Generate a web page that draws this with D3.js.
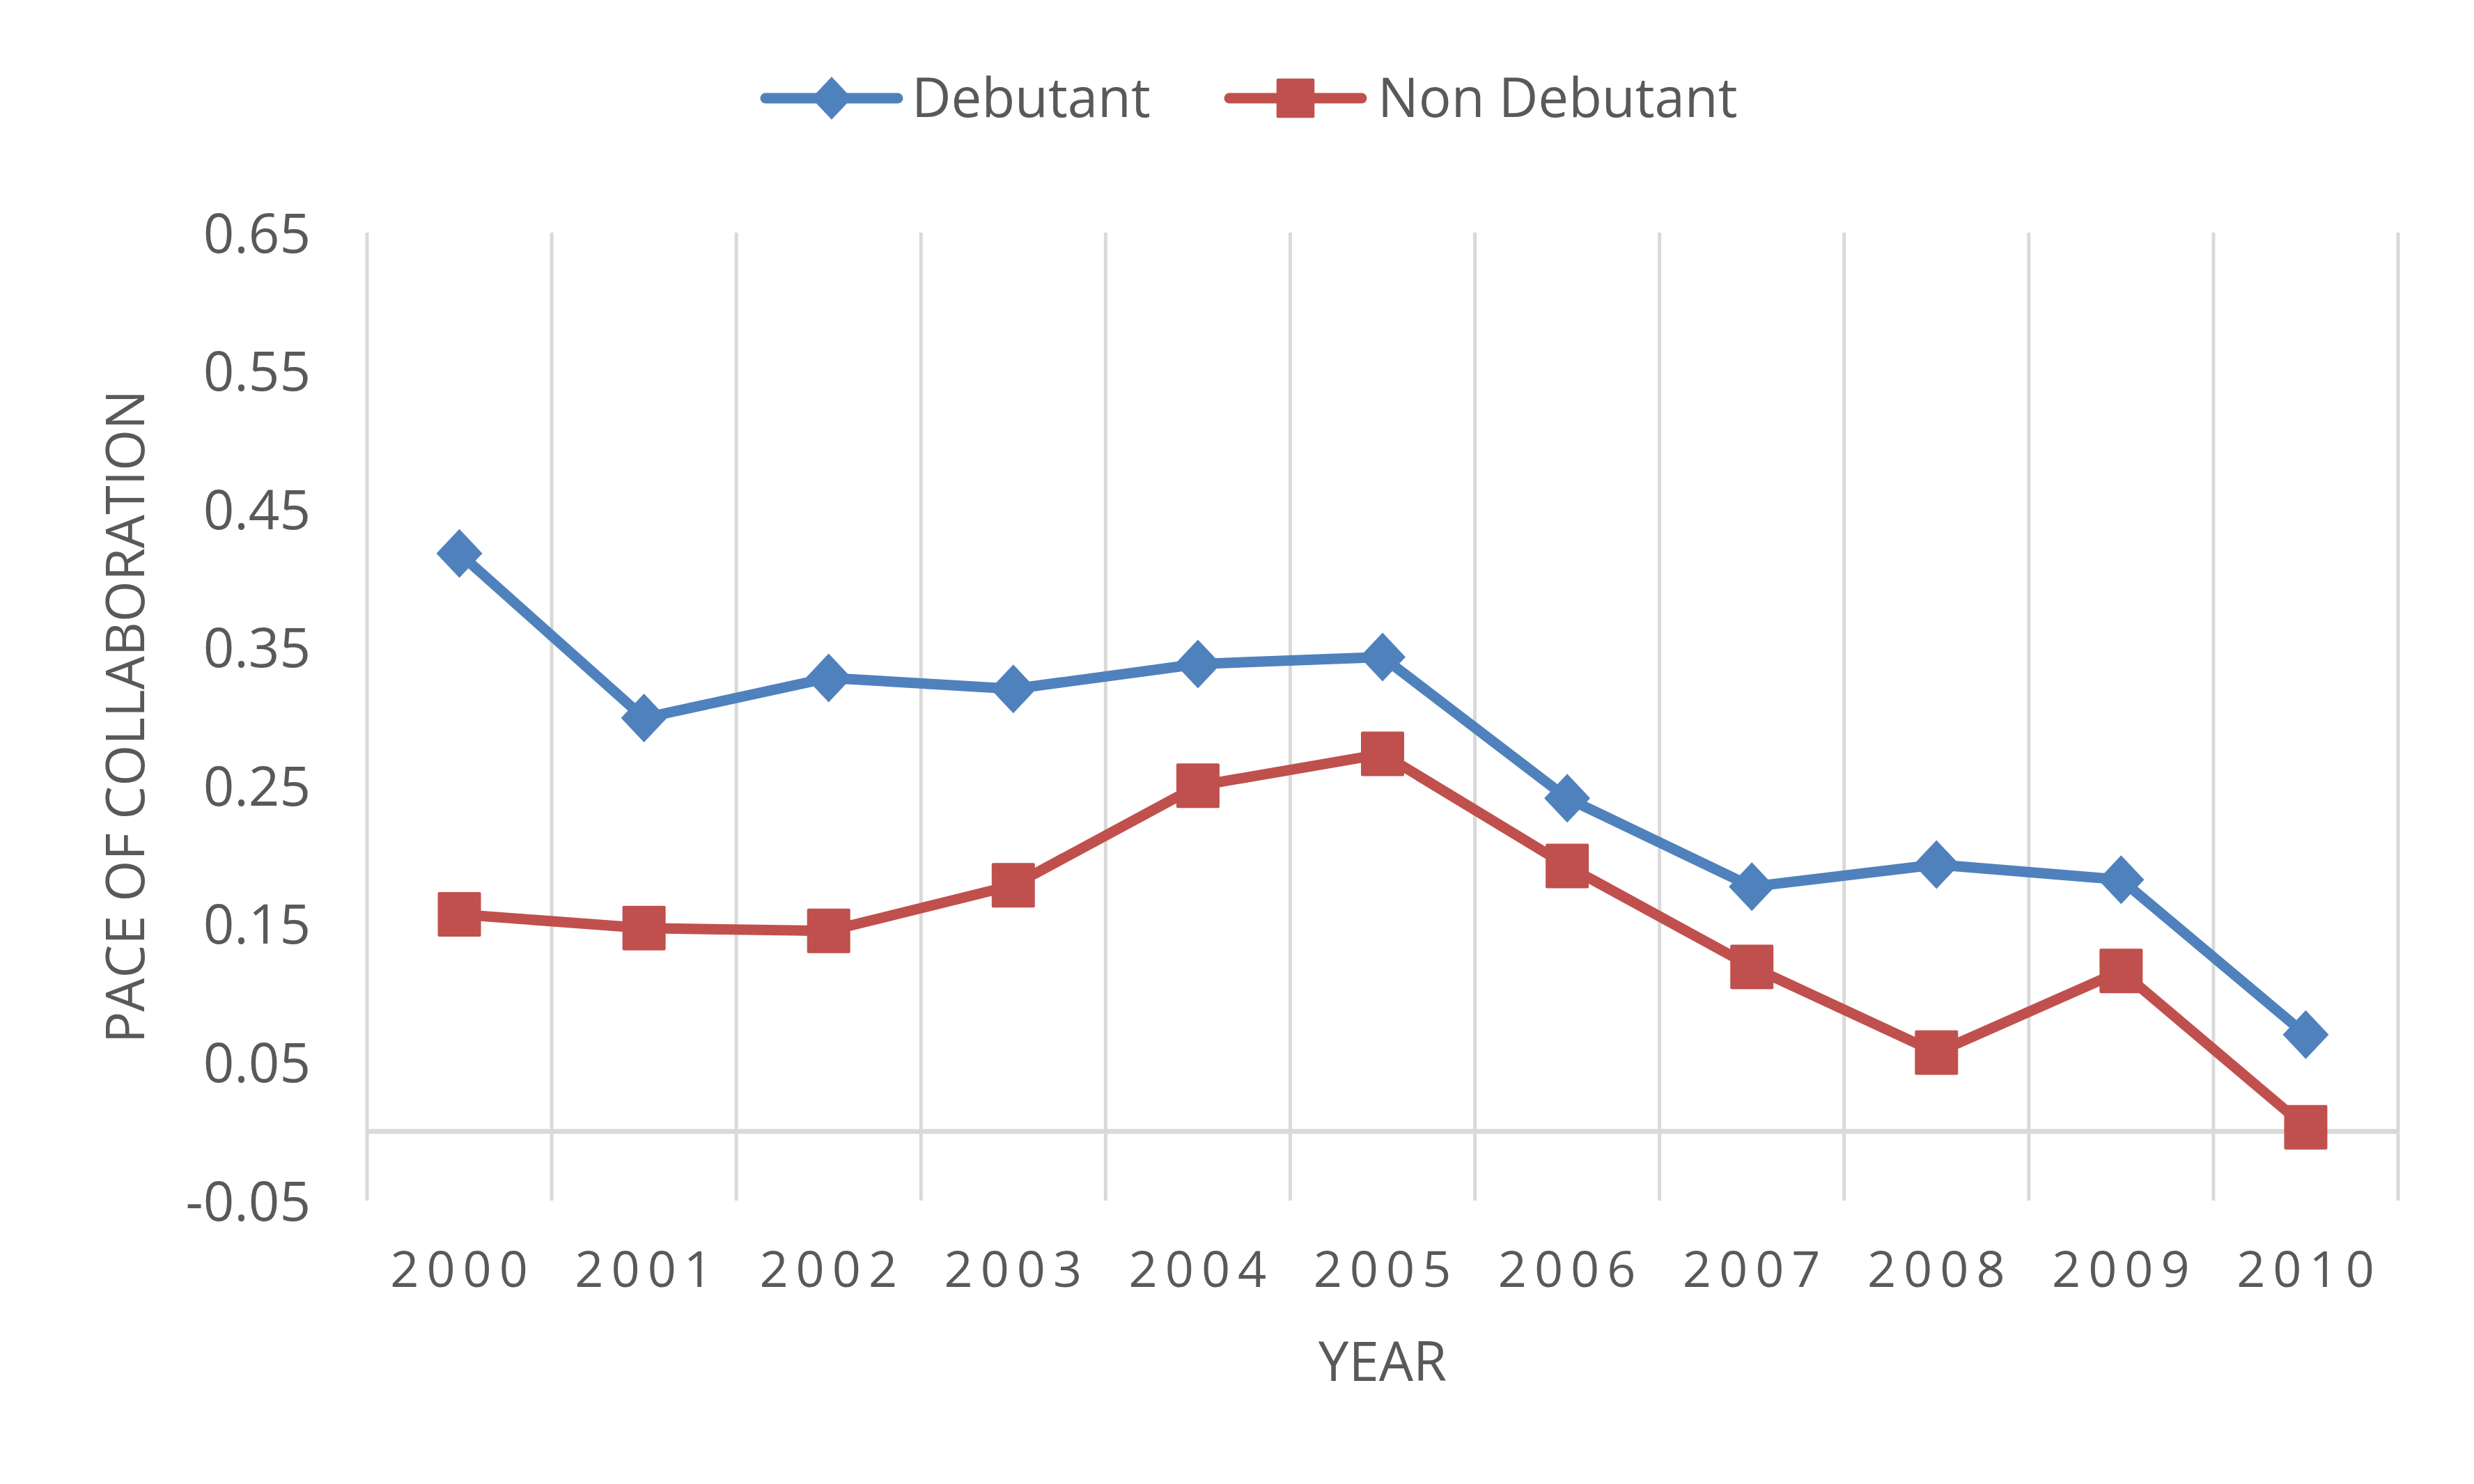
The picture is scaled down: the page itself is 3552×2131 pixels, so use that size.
<!DOCTYPE html>
<html>
<head>
<meta charset="utf-8">
<script src="https://cdn.jsdelivr.net/npm/d3@7"></script>
<style>
  html, body { margin: 0; padding: 0; background: #ffffff; }
</style>
</head>
<body>
<div id="chart"></div>
<script>
///////////////////////////////////////////////////////////////////////////
// Data
///////////////////////////////////////////////////////////////////////////
const years = ["2000", "2001", "2002", "2003", "2004", "2005", "2006", "2007", "2008", "2009", "2010"];
const debutant = [0.418, 0.299, 0.328, 0.320, 0.338, 0.343, 0.241, 0.177, 0.193, 0.182, 0.070];
const nonDebutant = [0.157, 0.147, 0.145, 0.178, 0.250, 0.273, 0.192, 0.119, 0.057, 0.116, 0.003];
const yTicks = [-0.05, 0.05, 0.15, 0.25, 0.35, 0.45, 0.55, 0.65];

const seriesList = [
  { name: "Debutant", values: debutant, color: "#4F81BD", marker: "diamond" },
  { name: "Non Debutant", values: nonDebutant, color: "#C0504D", marker: "square" }
];

///////////////////////////////////////////////////////////////////////////
// Set up the SVG
///////////////////////////////////////////////////////////////////////////
var width = 3552;
var height = 2131;
var plot = { left: 527, right: 3443, top: 334, bottom: 1724 };
var textColor = "#595959";
var gridColor = "#D9D9D9";
var fontFam = "'Open Sans', sans-serif";

var svg = d3.select("#chart")
  .append("svg")
  .attr("width", width)
  .attr("height", height)
  .style("background-color", "#ffffff");

var x = d3.scaleBand().domain(years).range([plot.left, plot.right]).padding(0);
var y = d3.scaleLinear().domain([-0.05, 0.65]).range([plot.bottom, plot.top]);

///////////////////////////////////////////////////////////////////////////
// Grid + axes
///////////////////////////////////////////////////////////////////////////
// vertical grid lines sit between the categories
const edges = years.map(d => x(d)).concat([plot.right]);
svg.append("g")
  .selectAll("line")
  .data(edges)
  .join("line")
  .attr("x1", d => d)
  .attr("x2", d => d)
  .attr("y1", plot.top)
  .attr("y2", plot.bottom)
  .attr("stroke", gridColor)
  .attr("stroke-width", 5);

// category axis at zero
svg.append("line")
  .attr("x1", plot.left)
  .attr("x2", plot.right)
  .attr("y1", y(0))
  .attr("y2", y(0))
  .attr("stroke", gridColor)
  .attr("stroke-width", 7);

// y tick labels
const yAxis = d3.axisLeft(y).tickValues(yTicks).tickSize(0).tickPadding(0)
  .tickFormat(d => d3.format(".2f")(d).replace("−", "-"));
const gy = svg.append("g")
  .attr("transform", "translate(446,0)")
  .call(yAxis);
gy.select(".domain").remove();
gy.selectAll("text")
  .attr("font-family", fontFam)
  .attr("font-size", 78)
  .attr("fill", textColor)
  .attr("dy", "0.36em");

// x tick labels
const xAxis = d3.axisBottom(x).tickSize(0).tickPadding(0);
const gx = svg.append("g")
  .attr("transform", "translate(0,1848)")
  .call(xAxis);
gx.select(".domain").remove();
gx.selectAll("text")
  .attr("font-family", fontFam)
  .attr("font-size", 72)
  .attr("fill", textColor)
  .attr("dy", 0)
  .attr("dx", 5)
  .style("letter-spacing", "11px");

// axis titles
svg.append("text")
  .attr("x", (plot.left + plot.right) / 2)
  .attr("y", 1983)
  .attr("text-anchor", "middle")
  .attr("font-family", fontFam)
  .attr("font-size", 78)
  .attr("fill", textColor)
  .text("YEAR");

svg.append("text")
  .attr("transform", "translate(207," + ((plot.top + plot.bottom) / 2) + ") rotate(-90)")
  .attr("text-anchor", "middle")
  .attr("font-family", fontFam)
  .attr("font-size", 76)
  .attr("fill", textColor)
  .text("PACE OF COLLABORATION");

///////////////////////////////////////////////////////////////////////////
// Markers
///////////////////////////////////////////////////////////////////////////
function diamondPath(w, h) {
  return ["M", 0, -h, "L", w, 0, "L", 0, h, "L", -w, 0, "Z"].join(" ");
}

function drawMarker(g, type, color, s) {
  if (type === "diamond") {
    g.append("path")
      .attr("d", diamondPath(33 * s, 35 * s))
      .attr("fill", color);
  } else {
    g.append("rect")
      .attr("x", -31 * s)
      .attr("y", -32 * s)
      .attr("width", 62 * s)
      .attr("height", 64 * s)
      .attr("rx", 2)
      .attr("fill", color);
  }
}

///////////////////////////////////////////////////////////////////////////
// Lines
///////////////////////////////////////////////////////////////////////////
const line = d3.line()
  .x((d, i) => x(years[i]) + x.bandwidth() / 2)
  .y(d => y(d));

seriesList.forEach(s => {
  svg.append("path")
    .datum(s.values)
    .attr("d", line)
    .attr("fill", "none")
    .attr("stroke", s.color)
    .attr("stroke-width", 15)
    .attr("stroke-linejoin", "round")
    .attr("stroke-linecap", "round");

  s.values.forEach((v, i) => {
    const g = svg.append("g")
      .attr("transform", `translate(${x(years[i]) + x.bandwidth() / 2}, ${y(v)})`);
    drawMarker(g, s.marker, s.color, 1);
  });
});

///////////////////////////////////////////////////////////////////////////
// Legend
///////////////////////////////////////////////////////////////////////////
const legendPos = [
  { x1: 1092, x2: 1296, tx: 1309 },
  { x1: 1758, x2: 1962, tx: 1978 }
];
const legendY = 141;

seriesList.forEach((s, i) => {
  const p = legendPos[i];
  svg.append("line")
    .attr("x1", p.x1 + 7)
    .attr("x2", p.x2 - 7)
    .attr("y1", legendY)
    .attr("y2", legendY)
    .attr("stroke", s.color)
    .attr("stroke-width", 15)
    .attr("stroke-linecap", "round");

  const g = svg.append("g")
    .attr("transform", `translate(${(p.x1 + p.x2) / 2}, ${legendY})`);
  drawMarker(g, s.marker, s.color, 0.88);

  svg.append("text")
    .attr("x", p.tx)
    .attr("y", 168)
    .attr("font-family", fontFam)
    .attr("font-size", 78)
    .attr("fill", textColor)
    .text(s.name);
});
</script>
</body>
</html>
